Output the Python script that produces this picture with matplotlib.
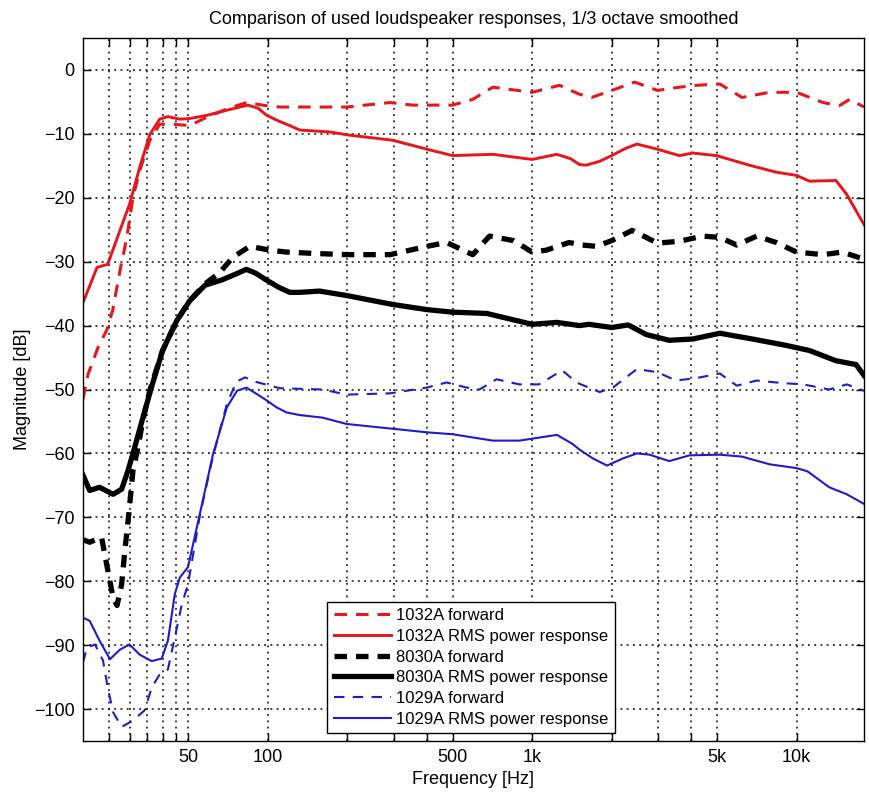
import matplotlib
matplotlib.use("Agg")
import matplotlib.pyplot as plt
from matplotlib.ticker import FixedLocator, FixedFormatter, NullLocator

plt.rcParams['font.family'] = ['Liberation Sans', 'DejaVu Sans']
plt.rcParams['lines.scale_dashes'] = False

# ---------------- data ----------------
f_1032_rms = [20, 22.6, 24.8, 27.6, 30, 32.8, 35.8, 39, 41.9, 46.5, 50.7, 58.8, 70, 84, 92, 99, 110, 121,
              132, 171, 204, 297, 400, 500, 710, 1000, 1240, 1400, 1510, 1600, 1800, 2000, 2250, 2490, 2980, 3600,
              4050, 4980, 6630, 8390, 10000, 11200, 14100, 15500, 18000]
db_1032_rms = [-36.4, -30.9, -30.4, -25.1, -21.0, -15.2, -10.1, -7.7, -7.3, -7.7, -7.6, -7.1, -6.3, -5.5, -6.0, -7.1, -8.0, -8.7,
               -9.4, -9.7, -10.2, -11.0, -12.4, -13.4, -13.2, -14.0, -13.2, -13.9, -14.8, -14.9, -14.3, -13.4, -12.3, -11.6, -12.4, -13.4,
               -13.0, -13.4, -14.9, -16.0, -16.5, -17.4, -17.3, -19.5, -24.2]

f_1032_fwd = [20, 20.9, 22.8, 24.6, 25.9, 27.6, 29.3, 30.9, 32.8, 35.8, 39, 43.7, 50.7, 58.8, 70, 83, 99,
              111, 199, 290, 352, 500, 596, 710, 1000, 1270, 1510, 1680, 2000, 2440, 2980, 3600, 4190,
              5130, 6220, 7900, 10000, 12600, 14500, 15900, 18000]
db_1032_fwd = [-51.5, -47.6, -43.4, -40.7, -37.6, -31.4, -26.2, -19.9, -15.7, -11.0, -8.5, -8.5, -8.7, -7.4, -6.1, -5.1, -5.6,
               -5.8, -5.8, -5.1, -5.5, -5.5, -4.6, -2.7, -3.5, -2.4, -3.8, -4.3, -3.2, -1.9, -3.2, -2.7, -2.4,
               -2.2, -4.3, -3.5, -3.5, -5.1, -5.6, -4.6, -5.8]

f_8030_rms = [20, 21.2, 23.1, 26, 28, 29.6, 31.4, 33.7, 36.4, 40, 45.3, 50.7, 57.8, 67.6, 75, 83, 90, 99, 110, 121,
              132, 157, 199, 297, 400, 500, 673, 1000, 1240, 1510, 1640, 2000, 2310, 2700, 3300, 4050,
              5130, 6810, 9140, 11200, 14100, 16800, 18000]
db_8030_rms = [-63.4, -65.8, -65.3, -66.4, -65.6, -62.7, -59.0, -54.4, -49.5, -43.9, -39.2, -36.1, -33.7, -32.8, -32.0, -31.2, -31.8, -32.9, -34.0, -34.8,
               -34.8, -34.6, -35.3, -36.7, -37.5, -37.9, -38.1, -39.8, -39.5, -40.0, -39.8, -40.3, -39.9, -41.4, -42.3, -42.1,
               -41.2, -42.1, -43.1, -43.9, -45.5, -46.1, -47.8]

f_8030_fwd = [20, 21.2, 23.5, 24.8, 26, 26.9, 28, 28.8, 29.8, 30.9, 32.3, 33.7, 35.8, 40, 45.3, 50.7, 57.8,
              65.8, 73.8, 85.5, 101.8, 118, 148, 199, 290, 400, 475, 596, 690, 850, 1000, 1130, 1380,
              1550, 1750, 2000, 2390, 2980, 3600, 4430, 5130, 5940, 7070, 8390, 10000, 12600, 14900, 18000]
db_8030_fwd = [-73.5, -73.9, -73.1, -78.2, -82.6, -83.8, -80.5, -75.2, -69.5, -62.7, -59.0, -54.8, -50.1, -43.9, -39.2, -36.1, -33.5,
               -31.7, -29.3, -27.6, -28.2, -28.5, -28.7, -28.9, -28.9, -27.6, -27.0, -28.9, -26.0, -26.7, -28.5, -28.2, -27.0,
               -27.4, -27.6, -26.7, -25.1, -27.1, -26.8, -26.0, -26.2, -27.4, -26.0, -27.0, -28.5, -28.9, -28.5, -29.6]

f_1029_rms = [20, 21.2, 23.1, 25.3, 27.6, 30, 32.8, 36.4, 39.7, 41.9, 44.5, 46.5, 49.9, 55.3, 62, 70, 76.5,
              83, 90, 99, 108, 118, 132, 161, 199, 290, 400, 500, 710, 895, 1240, 1420, 1510, 1700, 1920, 2200, 2490, 2780,
              3300, 3940, 5130, 6220, 7900, 10000, 11000, 13300, 15500, 18000]
db_1029_rms = [-85.7, -86.2, -89.3, -92.2, -90.7, -89.9, -91.5, -92.5, -92.1, -89.3, -82.0, -79.4, -77.8, -69.5, -60.2, -52.8, -50.2,
               -49.7, -50.6, -51.7, -52.8, -53.6, -54.0, -54.4, -55.4, -56.1, -56.7, -57.0, -58.0, -58.0, -57.1, -58.5, -59.4, -60.8, -61.9, -60.8, -60.0, -60.2,
               -61.2, -60.3, -60.2, -60.5, -61.7, -62.3, -62.8, -65.3, -66.4, -67.9]

f_1029_fwd = [20, 20.7, 22.2, 23.8, 24.8, 26, 28, 30.9, 34.2, 36.4, 39, 41.9, 44.5, 47.3, 49.9, 55.3, 62, 70,
              76, 82, 90, 111, 161, 199, 290, 400, 475, 565, 632, 733, 895, 1060, 1300, 1470, 1800, 2020,
              2490, 2980, 3500, 4190, 5130, 5940, 7070, 8860, 10600, 13300, 15500, 18000]
db_1029_fwd = [-92.7, -90.4, -89.9, -92.4, -96.6, -100.5, -102.8, -101.8, -100.2, -96.6, -94.6, -93.8, -88.8, -83.6, -80.5, -69.8, -60.5, -52.3,
               -48.8, -48.1, -48.8, -49.8, -50.0, -50.8, -50.6, -49.7, -48.9, -49.7, -50.0, -48.4, -49.2, -49.2, -47.0, -48.9, -50.4, -49.7,
               -46.8, -47.3, -48.6, -48.2, -47.5, -49.4, -48.6, -49.0, -49.2, -50.0, -49.2, -50.2]

labels = ['1032A forward', '1032A RMS power response', '8030A forward',
          '8030A RMS power response', '1029A forward', '1029A RMS power response']

xtick_vals = [25, 30, 35, 40, 45, 50, 100, 200, 300, 400, 500, 1000, 2000, 3000, 4000, 5000, 10000]
xtick_labels = ['', '', '', '', '', '50', '100', '', '', '', '500', '1k', '', '', '', '5k', '10k']
ytick_vals = [0, -10, -20, -30, -40, -50, -60, -70, -80, -90, -100]

# ---------------- plot ----------------
RED = '#e8161b'
BLUE = '#1c1cc8'
DASH = (0, (9, 6.5))
fig = plt.figure(figsize=(8.69, 7.94), dpi=100)
ax = fig.add_axes([83/869, 1-741/794, 781/869, 703/794])

ax.plot(f_1032_fwd, db_1032_fwd, color=RED, lw=2.2, linestyle=DASH, label=labels[0])
ax.plot(f_1032_rms, db_1032_rms, color=RED, lw=2.1, label=labels[1])
ax.plot(f_8030_fwd, db_8030_fwd, color='black', lw=3.8, linestyle=DASH, label=labels[2])
ax.plot(f_8030_rms, db_8030_rms, color='black', lw=3.8, label=labels[3])
ax.plot(f_1029_fwd, db_1029_fwd, color=BLUE, lw=1.5, linestyle=(0, (7.5, 6)), label=labels[4])
ax.plot(f_1029_rms, db_1029_rms, color=BLUE, lw=1.5, label=labels[5])

ax.set_xscale('log')
ax.set_xlim(20, 18000)
ax.set_ylim(-105, 5)
ax.xaxis.set_major_locator(FixedLocator(xtick_vals))
ax.xaxis.set_major_formatter(FixedFormatter(xtick_labels))
ax.xaxis.set_minor_locator(NullLocator())
ax.set_yticks(ytick_vals)
ax.yaxis.set_minor_locator(NullLocator())
ax.tick_params(direction='in', top=True, right=True, length=6, width=1, labelsize=13, pad=6)
ax.grid(True, color='black', linestyle=(0, (1.3, 3.2)), linewidth=1.1)
for s in ax.spines.values():
    s.set_linewidth(1.0)

ax.set_xlabel('Frequency [Hz]', fontsize=13, labelpad=3)
ax.set_ylabel('Magnitude [dB]', fontsize=13, labelpad=2)
ax.set_title('Comparison of used loudspeaker responses, 1/3 octave smoothed', fontsize=13, pad=10)

leg = ax.legend(loc='lower left', bbox_to_anchor=(0.313, 0.011), fontsize=12, handlelength=3.4,
                handletextpad=0.3, labelspacing=0.34, borderpad=0.4, borderaxespad=0,
                fancybox=False, framealpha=1, edgecolor='black')
leg.get_frame().set_linewidth(1.0)

fig.savefig('out.png', dpi=100)
